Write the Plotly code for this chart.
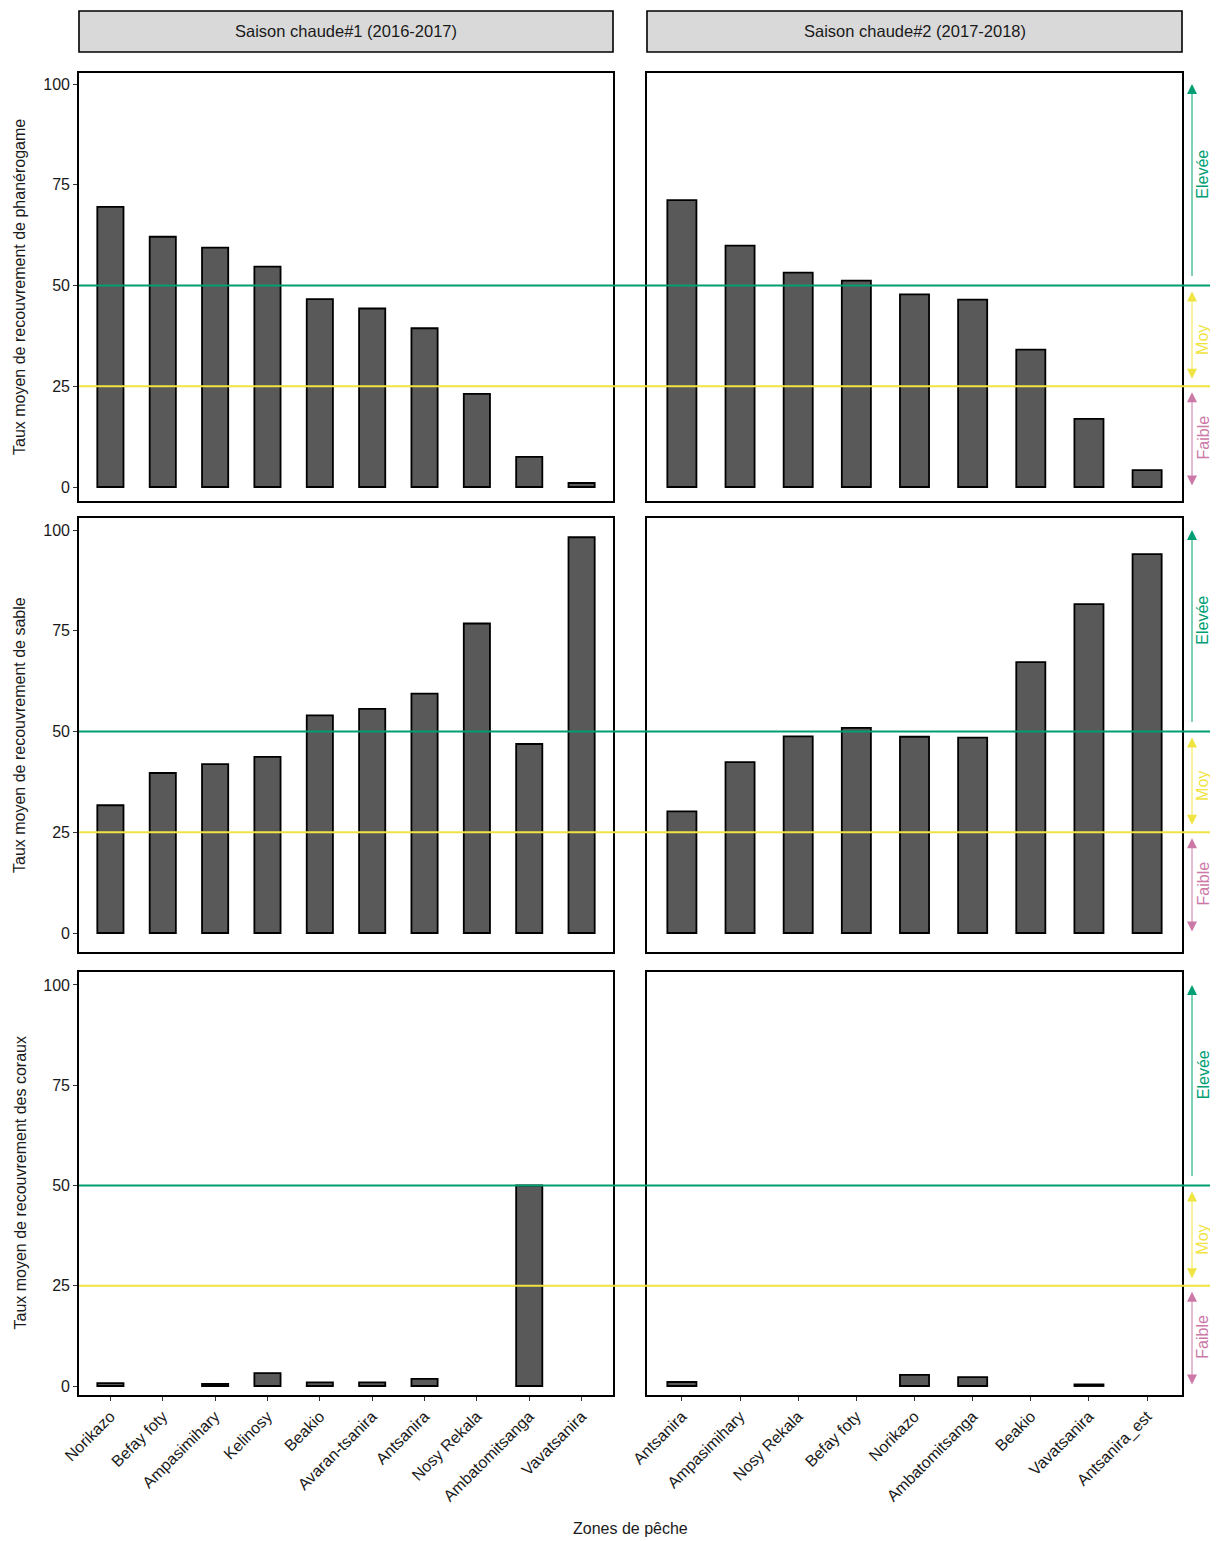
import plotly.graph_objects as go

# ---------------- data ----------------
zones_s1 = ["Norikazo", "Befay foty", "Ampasimihary", "Kelinosy", "Beakio",
            "Avaran-tsanira", "Antsanira", "Nosy Rekala", "Ambatomitsanga", "Vavatsanira"]
zones_s2 = ["Antsanira", "Ampasimihary", "Nosy Rekala", "Befay foty", "Norikazo",
            "Ambatomitsanga", "Beakio", "Vavatsanira", "Antsanira_est"]

phanero_s1 = [69.5, 62.1, 59.4, 54.7, 46.6, 44.3, 39.4, 23.1, 7.5, 1.0]
phanero_s2 = [71.2, 59.9, 53.2, 51.2, 47.8, 46.5, 34.1, 16.9, 4.2]

sable_s1 = [31.7, 39.7, 41.9, 43.7, 54.0, 55.6, 59.4, 76.8, 46.9, 98.2]
sable_s2 = [30.2, 42.4, 48.8, 50.9, 48.7, 48.5, 67.2, 81.6, 94.0]

coraux_s1 = [0.7, None, 0.5, 3.2, 0.9, 0.9, 1.8, None, 50.0, None]
coraux_s2 = [1.0, None, None, None, 2.8, 2.2, None, 0.4, None]

seasons = ["Saison chaude#1 (2016-2017)", "Saison chaude#2 (2017-2018)"]
row_titles = ["Taux moyen de recouvrement de phanérogame",
              "Taux moyen de recouvrement de sable",
              "Taux moyen de recouvrement des coraux"]
y_ticks = [0, 25, 50, 75, 100]
thresholds = [50, 25]
levels = ["Elevée", "Moy", "Faible"]
x_title = "Zones de pêche"

# ---------------- layout helpers ----------------
PAGE_W, PAGE_H = 1218, 1541
OFF = 8  # default page body margin
W, H = PAGE_W - OFF, PAGE_H - OFF
FONT = "Liberation Sans Narrow, Arial Narrow, Liberation Sans, Arial, sans-serif"
GREEN, YELLOW, PINK = "#009E73", "#F0E442", "#CC79A7"

def fx(px):
    return (px - OFF) / W

def fy(px):
    return 1 - (px - OFF) / H

col_px = [(79, 613), (647, 1182)]
row_px = [(73, 501), (518, 952), (972, 1395)]
row_range = [[-3.47, 102.73], [-4.71, 102.98], [-2.24, 103.24]]

data = [[phanero_s1, phanero_s2], [sable_s1, sable_s2], [coraux_s1, coraux_s2]]
zones = [zones_s1, zones_s2]

fig = go.Figure()
layout = {}
for r in range(3):
    for c in range(2):
        idx = r * 2 + c + 1
        sx = "" if idx == 1 else str(idx)
        fig.add_trace(go.Bar(
            x=zones[c], y=data[r][c], xaxis="x" + sx, yaxis="y" + sx,
            width=0.5, marker=dict(color="#595959", line=dict(color="black", width=1.8)),
            showlegend=False, hoverinfo="x+y"))
        bottom = (r == 2)
        layout["xaxis" + sx] = dict(
            domain=[fx(col_px[c][0]), fx(col_px[c][1])], anchor="y" + sx,
            type="category", categoryorder="array", categoryarray=zones[c],
            range=[-0.6, len(zones[c]) - 0.4],
            showline=True, mirror=True, linecolor="black", linewidth=1.6,
            showgrid=False, zeroline=False,
            ticks="outside" if bottom else "", ticklen=4, tickcolor="#333333",
            showticklabels=bottom, tickangle=-45,
            tickfont=dict(family=FONT, size=16, color="#1a1a1a"))
        layout["yaxis" + sx] = dict(
            domain=[fy(row_px[r][1]), fy(row_px[r][0])], anchor="x" + sx,
            range=row_range[r], tickvals=y_ticks,
            showline=True, mirror=True, linecolor="black", linewidth=1.6,
            showgrid=False, zeroline=False,
            ticks="outside" if c == 0 else "", ticklen=4, tickcolor="#333333",
            showticklabels=(c == 0),
            tickfont=dict(family=FONT, size=16, color="#1a1a1a"))

fig.update_layout(**layout)

shapes = []
annotations = []

# strips
for c in range(2):
    shapes.append(dict(type="rect", xref="paper", yref="paper",
                       x0=fx(col_px[c][0]), x1=fx(col_px[c][1]), y0=fy(52), y1=fy(11),
                       fillcolor="#D9D9D9", line=dict(color="black", width=1.6), layer="below"))
    annotations.append(dict(xref="paper", yref="paper", x=fx(sum(col_px[c]) / 2), y=fy(31.5),
                            text=seasons[c], showarrow=False, xanchor="center", yanchor="middle",
                            font=dict(family=FONT, size=16.5, color="#1a1a1a")))

# threshold lines and right-side level annotations
for r in range(3):
    yl = "y" if r == 0 else "y" + str(r * 2 + 1)
    yr = "y" + str(r * 2 + 2)
    for t, colr in zip(thresholds, [GREEN, YELLOW]):
        shapes.append(dict(type="line", xref="paper", yref=yl, x0=fx(79), x1=fx(1210),
                           y0=t, y1=t, line=dict(color=colr, width=2), layer="above"))
    ax_x = fx(1192)
    annotations.append(dict(xref="paper", yref=yr, x=ax_x, y=100, axref="pixel", ax=0,
                            ayref=yr, ay=52, showarrow=True, arrowhead=2, arrowsize=2,
                            arrowwidth=1, arrowcolor=GREEN, arrowside="end", text=""))
    annotations.append(dict(xref="paper", yref=yr, x=ax_x, y=48.5, axref="pixel", ax=0,
                            ayref=yr, ay=26.5, showarrow=True, arrowhead=2, startarrowhead=2,
                            arrowsize=2, startarrowsize=2, arrowwidth=1, arrowcolor=YELLOW,
                            arrowside="end+start", text=""))
    annotations.append(dict(xref="paper", yref=yr, x=ax_x, y=23.5, axref="pixel", ax=0,
                            ayref=yr, ay=0, showarrow=True, arrowhead=2, startarrowhead=2,
                            arrowsize=2, startarrowsize=2, arrowwidth=1, arrowcolor=PINK,
                            arrowside="end+start", text=""))
    for lab, yy, colr in zip(levels, [77.5, 36.5, 12.3], [GREEN, YELLOW, PINK]):
        annotations.append(dict(xref="paper", yref=yr, x=fx(1203), y=yy, text=lab,
                                textangle=-90, showarrow=False, xanchor="center",
                                yanchor="middle", font=dict(family=FONT, size=16, color=colr)))
    annotations.append(dict(xref="paper", yref="paper", x=fx(20),
                            y=fy((row_px[r][0] + row_px[r][1]) / 2), text=row_titles[r],
                            textangle=-90, showarrow=False, xanchor="center", yanchor="middle",
                            font=dict(family=FONT, size=16, color="#1a1a1a")))

annotations.append(dict(xref="paper", yref="paper", x=fx(630), y=fy(1528), text=x_title,
                        showarrow=False, xanchor="center", yanchor="middle",
                        font=dict(family=FONT, size=16, color="#1a1a1a")))

fig.update_layout(width=W, height=H,
                  margin=dict(l=0, r=0, t=0, b=0, autoexpand=False),
                  paper_bgcolor="white", plot_bgcolor="white",
                  shapes=shapes, annotations=annotations, bargap=0.5,
                  font=dict(family=FONT))

fig.write_html("out.html")
